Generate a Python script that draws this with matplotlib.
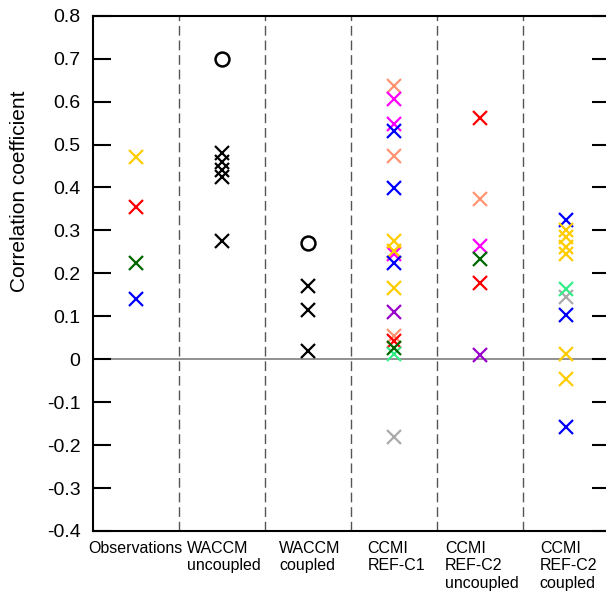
"""Correlation coefficients by model group."""

import matplotlib
matplotlib.use('Agg')
import matplotlib.pyplot as plt

plt.rcParams['font.family'] = ['Liberation Sans', 'DejaVu Sans']
plt.rcParams['axes.unicode_minus'] = False

# Colours used for the single ensemble members.
YEL = '#FFCC00'
RED = '#FF0000'
DGR = '#006600'
BLU = '#0000FF'
SAL = '#FF9473'
MAG = '#FF00FF'
PUR = '#9900CC'
SGR = '#33EE88'
GRY = '#AAAAAA'

# Column labels.
categories = ['Observations',
              'WACCM\nuncoupled',
              'WACCM\ncoupled',
              'CCMI\nREF-C1',
              'CCMI\nREF-C2\nuncoupled',
              'CCMI\nREF-C2\ncoupled']

# Values (crosses), one list per column.
obs_vals = [0.47, 0.355, 0.225, 0.14]
obs_cols = [YEL, RED, DGR, BLU]

waccm_unc_vals = [0.48, 0.46, 0.44, 0.425, 0.275]
waccm_unc_mean = 0.70

waccm_cpl_vals = [0.17, 0.115, 0.02]
waccm_cpl_mean = 0.27

refc1_vals = [0.636, 0.606, 0.547, 0.531, 0.473, 0.399, 0.245, 0.275, 0.252,
              0.225, 0.167, 0.109, 0.054, 0.043, 0.012, 0.027, -0.182]
refc1_cols = [SAL, MAG, MAG, BLU, SAL, BLU, MAG, YEL, YEL,
              BLU, YEL, PUR, SAL, RED, SGR, DGR, GRY]

refc2u_vals = [0.562, 0.374, 0.263, 0.234, 0.178, 0.009]
refc2u_cols = [RED, SAL, MAG, DGR, RED, PUR]

refc2c_vals = [0.324, 0.30, 0.285, 0.262, 0.245, 0.146, 0.164, 0.102,
               0.012, -0.047, -0.159]
refc2c_cols = [BLU, YEL, YEL, YEL, YEL, GRY, SGR, BLU,
               YEL, YEL, BLU]

yticks = [0.8, 0.7, 0.6, 0.5, 0.4, 0.3, 0.2, 0.1, 0, -0.1, -0.2, -0.3, -0.4]
ytick_labels = ['0.8', '0.7', '0.6', '0.5', '0.4', '0.3', '0.2', '0.1', '0',
                '-0.1', '-0.2', '-0.3', '-0.4']

# Left edge of each column label, relative to the column start.
label_shift = [-0.05, 0.09, 0.16, 0.19, 0.09, 0.19]

# Figure.
fig = plt.figure(figsize=(6.06, 5.95), dpi=100)
ax = fig.add_axes([0.1535, 0.1076, 0.8523, 0.8660])

# Zero line and group separators.
ax.axhline(0, color='#888888', linewidth=1.3, zorder=1)
for k in range(1, len(categories)):
    ax.axvline(k, color='#555555', linewidth=1.0,
               linestyle=(0, (7, 3.5)), zorder=1)

mk = dict(marker='x', linestyle='none', markersize=10.5,
          markeredgewidth=1.6, zorder=3)
circ = dict(marker='o', markersize=10, markerfacecolor='none',
            markeredgecolor='black', markeredgewidth=1.8,
            linestyle='none', zorder=3)

# Observations.
for v, c in zip(obs_vals, obs_cols):
    ax.plot([0.5], [v], color=c, **mk)

# WACCM (black, mean as open circle).
for v in waccm_unc_vals:
    ax.plot([1.5], [v], color='black', **mk)
ax.plot([1.5], [waccm_unc_mean], **circ)

for v in waccm_cpl_vals:
    ax.plot([2.5], [v], color='black', **mk)
ax.plot([2.5], [waccm_cpl_mean], **circ)

# CCMI.
for v, c in zip(refc1_vals, refc1_cols):
    ax.plot([3.5], [v], color=c, **mk)
for v, c in zip(refc2u_vals, refc2u_cols):
    ax.plot([4.5], [v], color=c, **mk)
for v, c in zip(refc2c_vals, refc2c_cols):
    ax.plot([5.5], [v], color=c, **mk)

# Axes.
ax.set_xlim(0, len(categories))
ax.set_ylim(-0.4, 0.8)
ax.set_xticks([])
ax.set_yticks(yticks)
ax.set_yticklabels(ytick_labels)
ax.tick_params(axis='y', direction='in', length=13, width=1.5,
               left=True, right=True, labelsize=14, pad=9)
for s in ax.spines.values():
    s.set_linewidth(1.5)

# Column labels below the frame.
for k, (name, dx) in enumerate(zip(categories, label_shift)):
    ax.text(k + dx, -0.423, name, ha='left', va='top', fontsize=11.5,
            linespacing=1.2)

fig.text(20 / 606, 1 - 191 / 595, 'Correlation coefficient',
         rotation=90, ha='center', va='center', fontsize=15)

plt.savefig('out.png', dpi=100)
